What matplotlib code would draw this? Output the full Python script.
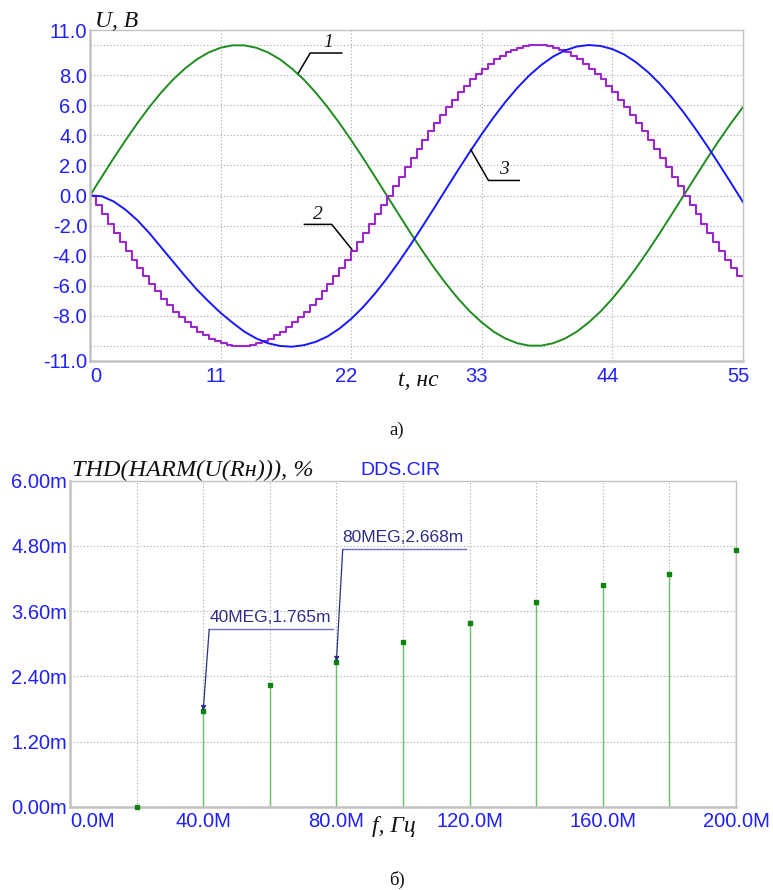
import numpy as np
import matplotlib
matplotlib.use("Agg")
import matplotlib.pyplot as plt
from matplotlib.transforms import ScaledTranslation

# ---------------- a) time diagrams, U in volts, t in ns ----------------
t_ns = np.arange(0, 56, 1)
# curve 1: reference sine
u1 = [0.00, 1.25, 2.49, 3.68, 4.82, 5.88, 6.85, 7.71, 8.44, 9.05,
      9.51, 9.82, 9.98, 9.98, 9.82, 9.51, 9.05, 8.44, 7.71, 6.85,
      5.88, 4.82, 3.68, 2.49, 1.25, 0.00, -1.25, -2.49, -3.68, -4.82,
      -5.88, -6.85, -7.71, -8.44, -9.05, -9.51, -9.82, -9.98, -9.98, -9.82,
      -9.51, -9.05, -8.44, -7.71, -6.85, -5.88, -4.82, -3.68, -2.49, -1.25,
      0.00, 1.25, 2.49, 3.68, 4.82, 5.88]
# curve 3: filtered output
u3 = [0.00, -0.05, -0.40, -0.95, -1.65, -2.50, -3.45, -4.40, -5.35, -6.25,
      -7.05, -7.80, -8.45, -9.05, -9.50, -9.82, -10.00, -10.05, -9.95, -9.73,
      -9.37, -8.85, -8.20, -7.42, -6.52, -5.52, -4.43, -3.27, -2.06, -0.82,
      0.44, 1.69, 2.91, 4.09, 5.20, 6.23, 7.16, 7.98, 8.67, 9.23,
      9.64, 9.90, 10.00, 9.94, 9.73, 9.37, 8.85, 8.20, 7.42, 6.52,
      5.52, 4.43, 3.27, 2.06, 0.82, -0.44]
# curve 2: DAC staircase, one level per 0.5 ns
t_step = np.arange(0, 55.25, 0.5)
u2 = [0.00, -0.63, -1.25, -1.87, -2.49, -3.09, -3.68, -4.26, -4.82, -5.36,
      -5.88, -6.37, -6.85, -7.29, -7.71, -8.09, -8.44, -8.76, -9.05, -9.30,
      -9.51, -9.69, -9.82, -9.92, -9.98, -10.00, -9.98, -9.92, -9.82, -9.69,
      -9.51, -9.30, -9.05, -8.76, -8.44, -8.09, -7.71, -7.29, -6.85, -6.37,
      -5.88, -5.36, -4.82, -4.26, -3.68, -3.09, -2.49, -1.87, -1.25, -0.63,
      0.00, 0.63, 1.25, 1.87, 2.49, 3.09, 3.68, 4.26, 4.82, 5.36,
      5.88, 6.37, 6.85, 7.29, 7.71, 8.09, 8.44, 8.76, 9.05, 9.30,
      9.51, 9.69, 9.82, 9.92, 9.98, 10.00, 9.98, 9.92, 9.82, 9.69,
      9.51, 9.30, 9.05, 8.76, 8.44, 8.09, 7.71, 7.29, 6.85, 6.37,
      5.88, 5.36, 4.82, 4.26, 3.68, 3.09, 2.49, 1.87, 1.25, 0.63,
      0.00, -0.63, -1.25, -1.87, -2.49, -3.09, -3.68, -4.26, -4.82, -5.36,
      -5.36]

top_xticks = [0, 11, 22, 33, 44, 55]
top_yticks = [11, 8, 6, 4, 2, 0, -2, -4, -6, -8, -11]
top_ygrid = [-10, -8, -6, -4, -2, 0, 2, 4, 6, 8, 10]
top_xgrid = [11, 22, 33, 44]

# ---------------- b) THD vs frequency ----------------
f_mhz = [20, 40, 60, 80, 100, 120, 140, 160, 180, 200]
thd_m = [0.0, 1.765, 2.24, 2.668, 3.03, 3.38, 3.76, 4.08, 4.28, 4.72]
marked = [1, 3]
bot_xticks = [0, 40, 80, 120, 160, 200]
bot_yticks = [0.0, 1.2, 2.4, 3.6, 4.8, 6.0]

BLUE_TXT = "#1f1fff"
GREEN = "#1e8c1e"
PURPLE = "#9b27cf"
BLUE = "#1717ff"
NAVY = "#2e2e86"
GRID = "#a9a9a9"

fig = plt.figure(figsize=(7.73, 8.90), dpi=100)


def style_axes(ax):
    for s in ax.spines.values():
        s.set_color("#c2c2c2")
        s.set_linewidth(1.0)
    ax.spines["left"].set_linewidth(1.8)
    ax.spines["bottom"].set_linewidth(1.8)
    ax.tick_params(length=0, labelsize=14.5, labelcolor=BLUE_TXT)
    ax.tick_params(axis="y", pad=2)
    ax.tick_params(axis="x", pad=4)
    for lab in ax.get_xticklabels() + ax.get_yticklabels():
        lab.set_fontfamily("Liberation Sans")


# ---- top chart
ax1 = fig.add_axes([90 / 773, 1 - 361 / 890, 653 / 773, 331 / 890])
ax1.set_xlim(0, 55)
ax1.set_ylim(-11, 11)
for g in top_ygrid:
    ax1.axhline(g, color=GRID, lw=0.8, ls=(0, (1, 2)), zorder=0)
for g in top_xgrid:
    ax1.axvline(g, color=GRID, lw=0.8, ls=(0, (1, 2)), zorder=0)

ax1.plot(t_ns, u1, color=GREEN, lw=1.4)
ax1.plot(t_step, u2, color=PURPLE, lw=1.5, drawstyle="steps-post")
ax1.plot(t_ns, u3, color=BLUE, lw=1.4)

ax1.set_xticks(top_xticks)
ax1.set_xticklabels([str(v) for v in top_xticks])
ax1.set_yticks(top_yticks)
ax1.set_yticklabels([f"{v:.1f}" for v in top_yticks])
style_axes(ax1)
xl = ax1.get_xticklabels()
xl[0].set_ha("left")
for lab in xl[1:]:
    lab.set_transform(lab.get_transform() + ScaledTranslation(-0.05, 0, fig.dpi_scale_trans))

# curve labels with leaders
serif_it = dict(family="Liberation Serif", style="italic", color="#111111")
leaders = [
    ("1", [(17.55, 8.14), (18.55, 9.47), (21.2, 9.47)], (20.1, 9.6)),
    ("2", [(22.05, -3.58), (20.36, -1.92), (18.06, -1.92)], (19.2, -1.8)),
    ("3", [(32.07, 3.05), (33.56, 1.0), (36.15, 1.0)], (34.9, 1.15)),
]
for name, pts, tpos in leaders:
    xs, ys = zip(*pts)
    ax1.plot(xs, ys, color="black", lw=1.1)
    ax1.text(tpos[0], tpos[1], name, fontsize=14, ha="center", va="bottom", **serif_it)

fig.text(95 / 773, 1 - 27 / 890, "U, B", fontsize=17, va="baseline", **serif_it)
fig.text(398 / 773, 1 - 386 / 890, "t, нс", fontsize=17, va="baseline", **serif_it)
fig.text(397 / 773, 1 - 435 / 890, "а)", fontsize=13.5, ha="center", va="baseline",
         family="Liberation Serif", color="#111111")

# ---- bottom chart
ax2 = fig.add_axes([70 / 773, 1 - 806.7 / 890, 666 / 773, 326 / 890])
ax2.set_xlim(0, 200)
ax2.set_ylim(0, 6.0)
for g in bot_yticks[1:-1]:
    ax2.axhline(g, color=GRID, lw=0.8, ls=(0, (1, 2)), zorder=0)
for g in range(20, 200, 20):
    ax2.axvline(g, color=GRID, lw=0.8, ls=(0, (1, 2)), zorder=0)

ax2.vlines(f_mhz, 0, thd_m, color="#6cc06c", lw=1.0, zorder=2)
ax2.plot(f_mhz, thd_m, "s", ms=3.2, color="#0b850b", zorder=3, clip_on=False)

ax2.set_xticks(bot_xticks)
ax2.set_xticklabels([f"{v:.1f}M" for v in bot_xticks])
ax2.set_yticks(bot_yticks)
ax2.set_yticklabels([f"{v:.2f}m" for v in bot_yticks])
style_axes(ax2)
ax2.get_xticklabels()[0].set_ha("left")

# cursor labels: underline start, underline end, underline level
label_boxes = [(41.8, 79.1, 3.265), (81.9, 118.9, 4.737)]
for i, (lx0, lx1, ly) in zip(marked, label_boxes):
    f, v = f_mhz[i], thd_m[i]
    ax2.plot([lx0, lx1], [ly, ly], color="#7070c0", lw=1.0)
    ax2.annotate("", xy=(f, v), xytext=(lx0, ly),
                 arrowprops=dict(arrowstyle="-|>", color=NAVY, lw=0.9,
                                 mutation_scale=7, shrinkA=0, shrinkB=0))
    ax2.annotate(f"{f}MEG,{v:.3f}m", xy=(lx0, ly), xytext=(0, 3),
                 textcoords="offset points", fontsize=12.5, color=NAVY,
                 family="Liberation Sans", va="bottom", ha="left")

fig.text(72 / 773, 1 - 476 / 890, "THD(HARM(U(Rн))), %", fontsize=17.5, va="baseline", **serif_it)
fig.text(360 / 773, 1 - 475 / 890, "DDS.CIR", fontsize=14, va="baseline",
         family="Liberation Sans", color=BLUE_TXT)
fig.text(372 / 773, 1 - 832 / 890, "f, Гц", fontsize=17, va="baseline", **serif_it)
fig.text(397 / 773, 1 - 885 / 890, "б)", fontsize=13.5, ha="center", va="baseline",
         family="Liberation Serif", color="#111111")

fig.savefig("out.png", dpi=100)
